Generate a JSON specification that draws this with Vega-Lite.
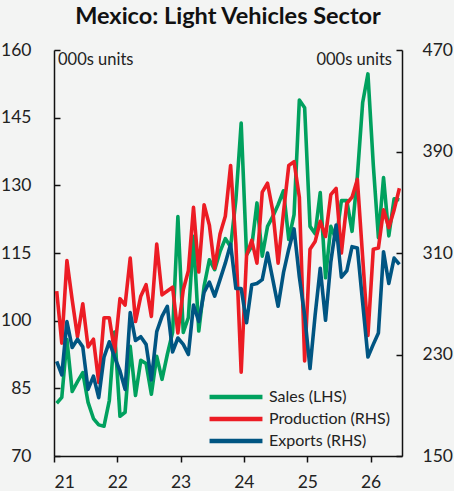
{
  "$schema": "https://vega.github.io/schema/vega-lite/v6.json",
  "autosize": "none",
  "width": 348,
  "height": 406,
  "padding": {"left": 54, "top": 50, "right": 52, "bottom": 35},
  "background": "#f3f4f3",
  "title": {"text": "Mexico: Light Vehicles Sector", "fontSize": 23.5, "font": "Lato", "fontWeight": "bold", "color": "#111111", "anchor": "middle", "offset": 13},
  "config": {
    "view": {"stroke": null},
    "font": "Lato",
    "axis": {"grid": false, "domainColor": "#111111", "tickColor": "#111111", "domainWidth": 1.5, "tickWidth": 1.5, "labelColor": "#222222", "labelFont": "Lato", "labelFontSize": 17.5, "title": null},
    "legend": {"labelFont": "Lato", "labelFontSize": 16, "labelColor": "#222222"}
  },
  "data": {
    "values": [
      {"date": "2021-01", "sales": 81.7, "production": 280, "exports": 224.5},
      {"date": "2021-02", "sales": 83, "production": 239, "exports": 214},
      {"date": "2021-03", "sales": 95.8, "production": 304, "exports": 256},
      {"date": "2021-04", "sales": 84.3, "production": 273, "exports": 235.5},
      {"date": "2021-05", "sales": 86.5, "production": 244, "exports": 242},
      {"date": "2021-06", "sales": 88.5, "production": 270, "exports": 236},
      {"date": "2021-07", "sales": 81.9, "production": 236, "exports": 202.5},
      {"date": "2021-08", "sales": 78.3, "production": 242, "exports": 213},
      {"date": "2021-09", "sales": 76.9, "production": 208, "exports": 196},
      {"date": "2021-10", "sales": 76.6, "production": 259, "exports": 228},
      {"date": "2021-11", "sales": 82.3, "production": 259, "exports": 240},
      {"date": "2021-12", "sales": 97.5, "production": 232, "exports": 228},
      {"date": "2022-01", "sales": 78.8, "production": 274, "exports": 217},
      {"date": "2022-02", "sales": 79.7, "production": 269, "exports": 202.5},
      {"date": "2022-03", "sales": 94.3, "production": 306, "exports": 263},
      {"date": "2022-04", "sales": 83.4, "production": 256, "exports": 241},
      {"date": "2022-05", "sales": 91.2, "production": 276, "exports": 244},
      {"date": "2022-06", "sales": 90.5, "production": 285, "exports": 238},
      {"date": "2022-07", "sales": 83.7, "production": 260, "exports": 210},
      {"date": "2022-08", "sales": 92.1, "production": 317, "exports": 248},
      {"date": "2022-09", "sales": 87, "production": 277, "exports": 260},
      {"date": "2022-10", "sales": 92.5, "production": 280, "exports": 268},
      {"date": "2022-11", "sales": 97.4, "production": 283, "exports": 232},
      {"date": "2022-12", "sales": 123.1, "production": 247, "exports": 243},
      {"date": "2023-01", "sales": 97.4, "production": 281, "exports": 238},
      {"date": "2023-02", "sales": 100.7, "production": 296, "exports": 230},
      {"date": "2023-03", "sales": 118.7, "production": 346, "exports": 269},
      {"date": "2023-04", "sales": 97.7, "production": 295, "exports": 256},
      {"date": "2023-05", "sales": 107.6, "production": 348, "exports": 279},
      {"date": "2023-06", "sales": 113.5, "production": 332, "exports": 287},
      {"date": "2023-07", "sales": 111.3, "production": 298, "exports": 276},
      {"date": "2023-08", "sales": 115.3, "production": 325, "exports": 289},
      {"date": "2023-09", "sales": 118.2, "production": 339, "exports": 302},
      {"date": "2023-10", "sales": 116.4, "production": 379, "exports": 317},
      {"date": "2023-11", "sales": 126.8, "production": 317, "exports": 282},
      {"date": "2023-12", "sales": 143.8, "production": 216, "exports": 282},
      {"date": "2024-01", "sales": 114.6, "production": 308, "exports": 255},
      {"date": "2024-02", "sales": 116.5, "production": 320, "exports": 285},
      {"date": "2024-03", "sales": 126.1, "production": 302, "exports": 286},
      {"date": "2024-04", "sales": 114.3, "production": 358, "exports": 289},
      {"date": "2024-05", "sales": 120.9, "production": 365, "exports": 310},
      {"date": "2024-06", "sales": 123.1, "production": 343, "exports": 289},
      {"date": "2024-07", "sales": 125.7, "production": 302, "exports": 268},
      {"date": "2024-08", "sales": 128.8, "production": 342, "exports": 294.5},
      {"date": "2024-09", "sales": 118, "production": 379, "exports": 313},
      {"date": "2024-10", "sales": 123.5, "production": 382, "exports": 329},
      {"date": "2024-11", "sales": 148.9, "production": 354, "exports": 291},
      {"date": "2024-12", "sales": 147.2, "production": 225, "exports": 261},
      {"date": "2025-01", "sales": 120.9, "production": 313, "exports": 219},
      {"date": "2025-02", "sales": 119.3, "production": 319, "exports": 261},
      {"date": "2025-03", "sales": 128.4, "production": 335, "exports": 298},
      {"date": "2025-04", "sales": 109.5, "production": 323, "exports": 257},
      {"date": "2025-05", "sales": 120.9, "production": 356, "exports": 303},
      {"date": "2025-06", "sales": 118, "production": 361, "exports": 332},
      {"date": "2025-07", "sales": 126.6, "production": 310, "exports": 291},
      {"date": "2025-08", "sales": 126.6, "production": 349, "exports": 296},
      {"date": "2025-09", "sales": 119.8, "production": 354, "exports": 315},
      {"date": "2025-10", "sales": 132, "production": 368, "exports": 314},
      {"date": "2025-11", "sales": 148.3, "production": 307, "exports": 271},
      {"date": "2025-12", "sales": 154.7, "production": 245, "exports": 228},
      {"date": "2026-01", "sales": 134.5, "production": 313, "exports": 238},
      {"date": "2026-02", "sales": 118.4, "production": 314, "exports": 247},
      {"date": "2026-03", "sales": 131.7, "production": 344, "exports": 311},
      {"date": "2026-04", "sales": 118.8, "production": 330, "exports": 286},
      {"date": "2026-05", "sales": 127, "production": 344, "exports": 306},
      {"date": "2026-06", "sales": 126.8, "production": 361, "exports": 301}
    ],
    "format": {"parse": {"date": "date:'%Y-%m'"}}
  },
  "layer": [
    {
      "layer": [
        {
          "mark": {"type": "line", "strokeWidth": 3.6, "strokeJoin": "round"},
          "encoding": {
            "x": {
              "field": "date", "type": "temporal", "timeUnit": "yearmonth", "bandPosition": 0.5,
              "scale": {"domain": [{"year": 2021, "month": 1, "date": 1}, {"year": 2026, "month": 7, "date": 1}]},
              "axis": {
                "values": [{"year": 2021, "month": 1, "date": 1}, {"year": 2022, "month": 1, "date": 1}, {"year": 2023, "month": 1, "date": 1}, {"year": 2024, "month": 1, "date": 1}, {"year": 2025, "month": 1, "date": 1}, {"year": 2026, "month": 1, "date": 1}],
                "format": "%y", "tickSize": 6, "labelPadding": 11, "labelFlush": true
              }
            },
            "y": {"field": "sales", "type": "quantitative", "scale": {"domain": [70, 160], "nice": false, "zero": false},
              "axis": {"orient": "left", "values": [70, 85, 100, 115, 130, 145, 160], "tickSize": -6, "labelPadding": 29}},
            "color": {"datum": "Sales (LHS)", "type": "nominal",
              "scale": {"domain": ["Sales (LHS)", "Production (RHS)", "Exports (RHS)"], "range": ["#00a15e", "#ec1c24", "#005582"]},
              "legend": {"title": null, "orient": "none", "legendX": 153, "legendY": 336, "symbolType": "stroke", "symbolSize": 2800, "symbolStrokeWidth": 4.5, "clipHeight": 22, "rowPadding": 0, "labelOffset": 4}}
          }
        },
        {
          "data": {"values": [{"start": "2021-01-01", "level": 160, "label": "000s units"}], "format": {"parse": {"start": "date:'%Y-%m-%d'"}}},
          "mark": {"type": "text", "align": "left", "baseline": "top", "dx": 4, "dy": 2, "fontSize": 16.5, "color": "#222222"},
          "encoding": {
            "x": {"field": "start", "type": "temporal"},
            "y": {"field": "level", "type": "quantitative"},
            "text": {"field": "label"}
          }
        }
      ]
    },
    {
      "layer": [
        {
          "mark": {"type": "line", "strokeWidth": 3.6, "strokeJoin": "round"},
          "encoding": {
            "x": {"field": "date", "type": "temporal", "timeUnit": "yearmonth", "bandPosition": 0.5},
            "y": {"field": "production", "type": "quantitative", "scale": {"domain": [150, 470], "nice": false, "zero": false},
              "axis": {"orient": "right", "values": [150, 230, 310, 390, 470], "tickSize": -6, "labelPadding": 26}},
            "color": {"datum": "Production (RHS)", "type": "nominal"}
          }
        },
        {
          "mark": {"type": "line", "strokeWidth": 3.6, "strokeJoin": "round"},
          "encoding": {
            "x": {"field": "date", "type": "temporal", "timeUnit": "yearmonth", "bandPosition": 0.5},
            "y": {"field": "exports", "type": "quantitative"},
            "color": {"datum": "Exports (RHS)", "type": "nominal"}
          }
        },
        {
          "data": {"values": [{"end": "2026-07-01", "level": 470, "label": "000s units"}], "format": {"parse": {"end": "date:'%Y-%m-%d'"}}},
          "mark": {"type": "text", "align": "right", "baseline": "top", "dx": -10, "dy": 2, "fontSize": 16.5, "color": "#222222"},
          "encoding": {
            "x": {"field": "end", "type": "temporal"},
            "y": {"field": "level", "type": "quantitative"},
            "text": {"field": "label"}
          }
        }
      ]
    }
  ],
  "resolve": {"scale": {"y": "independent"}}
}
